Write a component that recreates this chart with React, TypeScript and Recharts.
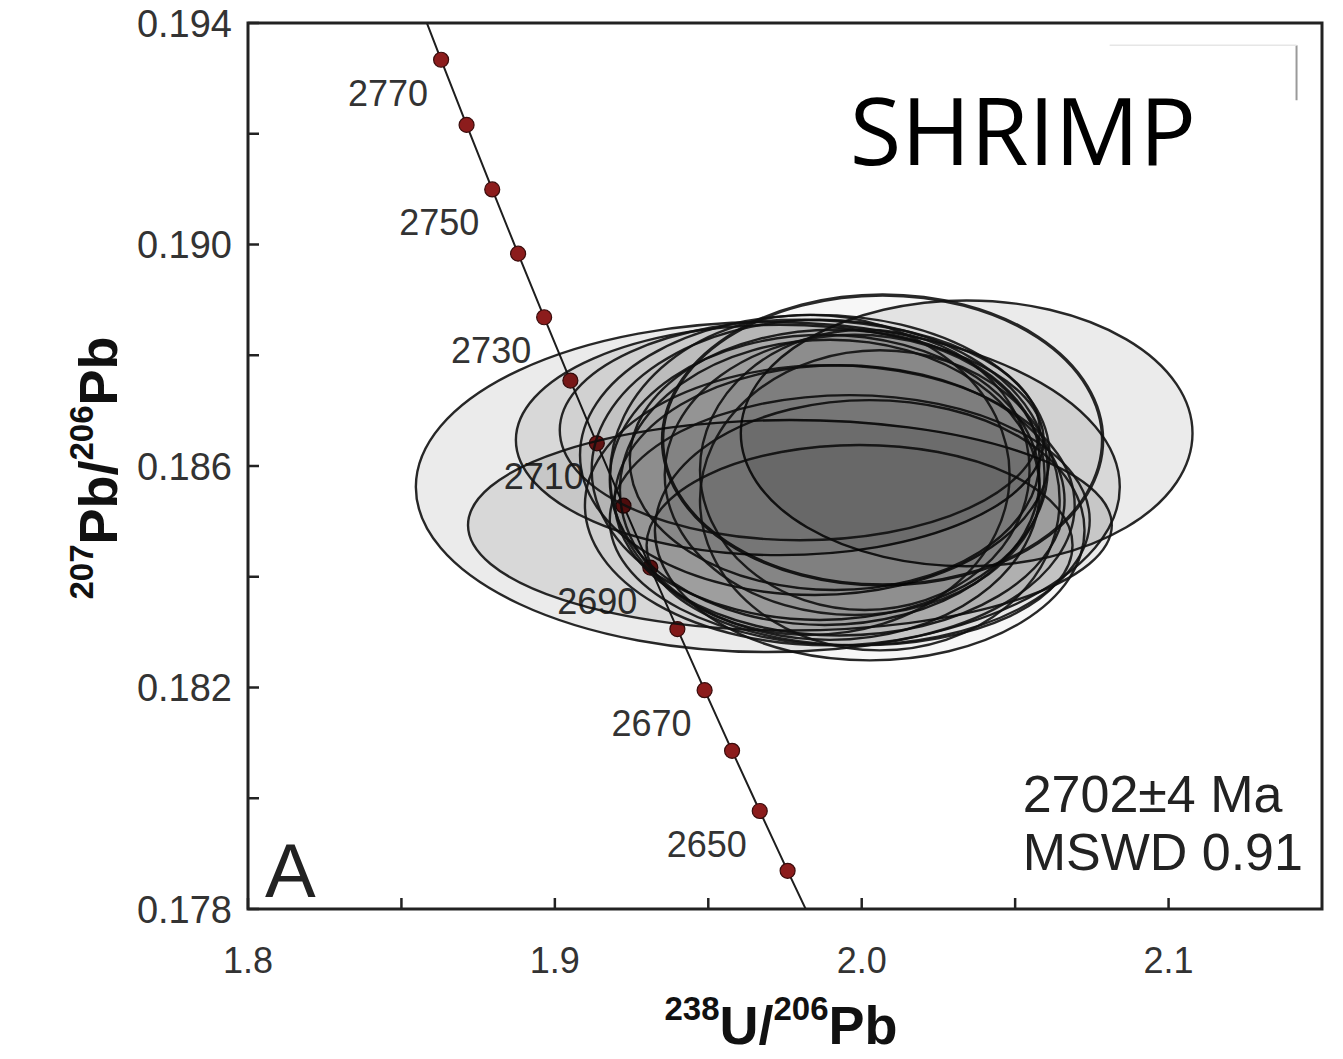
import React from "react";
import {
  ScatterChart,
  Scatter,
  XAxis,
  YAxis,
  ReferenceArea,
  ReferenceDot,
  ReferenceLine,
} from "recharts";

const FONT = "'Liberation Sans', Arial, Helvetica, sans-serif";

// Tera-Wasserburg concordia, one point every 10 Ma
const concordiaAges = [2630, 2640, 2650, 2660, 2670, 2680, 2690, 2700, 2710, 2720, 2730, 2740, 2750, 2760, 2770, 2780];
const concordiaX = [1.98501, 1.97585, 1.96677, 1.95775, 1.9488, 1.93993, 1.93111, 1.92236, 1.91368, 1.90506, 1.89651, 1.88802, 1.87959, 1.87123, 1.86293, 1.85468];
const concordiaY = [0.177618, 0.178689, 0.17977, 0.180856, 0.181952, 0.183055, 0.184166, 0.185283, 0.18641, 0.187543, 0.188686, 0.189835, 0.190994, 0.19216, 0.193336, 0.194517];
const dottedAges = [2640, 2650, 2660, 2670, 2680, 2690, 2700, 2710, 2720, 2730, 2740, 2750, 2760, 2770];
const labelledAges = [2650, 2670, 2690, 2710, 2730, 2750, 2770];

// SHRIMP spot error ellipses: centre and half-widths
const spotX = [1.9694, 1.9766, 1.9733, 2.0342, 2.0068, 1.9847, 1.9863, 1.9879, 1.9896, 1.9912, 1.9928, 2.0026, 1.9961, 1.9993, 1.9896, 2.001, 1.9798, 1.9977, 1.9831, 2.0059];
const spotY = [0.18562, 0.18493, 0.18647, 0.18659, 0.18647, 0.1862, 0.18593, 0.18575, 0.18557, 0.18611, 0.18538, 0.18484, 0.18502, 0.18457, 0.18529, 0.18593, 0.18665, 0.18584, 0.18584, 0.18538];
const spotHalfX = [0.1147, 0.1049, 0.086, 0.0736, 0.0717, 0.0765, 0.0743, 0.07, 0.0684, 0.0668, 0.0733, 0.07, 0.0782, 0.0694, 0.0798, 0.0537, 0.0782, 0.0619, 0.0651, 0.0586];
const spotHalfY = [0.00298, 0.0019, 0.00208, 0.0024, 0.00262, 0.00253, 0.00271, 0.00262, 0.00271, 0.00235, 0.00244, 0.00235, 0.00226, 0.00181, 0.00253, 0.00253, 0.00199, 0.00253, 0.00289, 0.00271];

const xTicks = [1.8, 1.85, 1.9, 1.95, 2.0, 2.05, 2.1];
const xTickLabels = ["1.8", "", "1.9", "", "2.0", "", "2.1"];
const yTicks = [0.178, 0.18, 0.182, 0.184, 0.186, 0.188, 0.19, 0.192, 0.194];
const yTickLabels = ["0.178", "", "0.182", "", "0.186", "", "0.190", "", "0.194"];

const concordia = concordiaAges.map((age, i) => ({ age, x: concordiaX[i], y: concordiaY[i] }));

// each ellipse: centre, right end, top end -> pixel radii come from the axis scales
const spots = spotX.map((x, i) => [
  { x, y: spotY[i] },
  { x: x + spotHalfX[i], y: spotY[i] },
  { x, y: spotY[i] + spotHalfY[i] },
]);

function findLabel(ticks: number[], labels: string[], v: number) {
  const i = ticks.findIndex((t) => Math.abs(t - v) < 1e-9);
  return i >= 0 ? labels[i] : "";
}

function XTick(props: any) {
  const { x, y, payload } = props;
  const label = findLabel(xTicks, xTickLabels, payload.value);
  return (
    <g>
      <line x1={x} x2={x} y1={y} y2={y - 11} stroke="#222" strokeWidth={2.5} />
      {label && (
        <text x={x} y={y + 64} textAnchor="middle" fontSize={36} fill="#333" fontFamily={FONT}>
          {label}
        </text>
      )}
    </g>
  );
}

function YTick(props: any) {
  const { x, y, payload } = props;
  const label = findLabel(yTicks, yTickLabels, payload.value);
  return (
    <g>
      <line x1={x} x2={x + 11} y1={y} y2={y} stroke="#222" strokeWidth={2.5} />
      {label && (
        <text x={x - 16} y={y} dy="0.36em" textAnchor="end" fontSize={38} fill="#333" fontFamily={FONT}>
          {label}
        </text>
      )}
    </g>
  );
}

function XTitle(props: any) {
  const vb = props.viewBox || { x: 240, y: 909, width: 1074, height: 149 };
  return (
    <text x={vb.x + vb.width / 2 - 4} y={vb.y + 135} textAnchor="middle" fontWeight={700} fill="#111" fontFamily={FONT}>
      <tspan fontSize={33} dy={-24}>238</tspan>
      <tspan fontSize={54} dy={24}>U/</tspan>
      <tspan fontSize={33} dy={-24}>206</tspan>
      <tspan fontSize={54} dy={24}>Pb</tspan>
    </text>
  );
}

function YTitle(props: any) {
  const vb = props.viewBox || { x: 40, y: 23, width: 200, height: 886 };
  const bx = vb.x + 69;
  const cy = vb.y + vb.height / 2 + 2;
  return (
    <text x={bx} y={cy} transform={`rotate(-90 ${bx} ${cy})`} textAnchor="middle" fontWeight={700} fill="#111" fontFamily={FONT}>
      <tspan fontSize={33} dy={-24}>207</tspan>
      <tspan fontSize={54} dy={24}>Pb/</tspan>
      <tspan fontSize={33} dy={-24}>206</tspan>
      <tspan fontSize={54} dy={24}>Pb</tspan>
    </text>
  );
}

function AgeDot(props: any) {
  const { cx, cy } = props;
  const age = (props.payload ?? props).age;
  if (!dottedAges.includes(age)) return <g />;
  return (
    <g>
      <circle cx={cx} cy={cy} r={7.5} fill="#8c1c1c" stroke="#3a0d0d" strokeWidth={1.2} />
      {labelledAges.includes(age) && (
        <text x={cx - 53} y={cy + 46} textAnchor="middle" fontSize={36} fill="#333" fontFamily={FONT}>
          {age}
        </text>
      )}
    </g>
  );
}

const NoSymbol = () => <g />;

const ellipseLine = (opacity: number, width: number) => (p: any) => {
  const pts = p.points || [];
  if (pts.length < 3) return <g />;
  const [c, r, t] = pts;
  return (
    <ellipse
      cx={c.x}
      cy={c.y}
      rx={Math.abs(r.x - c.x)}
      ry={Math.abs(t.y - c.y)}
      fill="#000"
      fillOpacity={opacity}
      stroke="#111"
      strokeOpacity={0.9}
      strokeWidth={width}
    />
  );
};

const note = (text: string, size: number, family: string, color: string) => (p: any) => (
  <text x={p.cx} y={p.cy} fontSize={size} fontFamily={family} fill={color}>
    {text}
  </text>
);

export default function App() {
  return (
    <div style={{ width: 1330, height: 1058, marginTop: -8, marginBottom: -8, background: "#fff" }}>
      <ScatterChart
        width={1330}
        height={1058}
        margin={{ top: 23, right: 16, bottom: 0, left: 40 }}
        style={{ fontFamily: FONT }}
      >
        <XAxis
          type="number"
          dataKey="x"
          domain={[1.8, 2.15]}
          allowDataOverflow
          ticks={xTicks}
          interval={0}
          tick={XTick}
          tickLine={false}
          axisLine={false}
          tickSize={0}
          tickMargin={0}
          height={149}
          label={{ content: XTitle }}
        />
        <YAxis
          type="number"
          dataKey="y"
          domain={[0.178, 0.194]}
          allowDataOverflow
          ticks={yTicks}
          interval={0}
          tick={YTick}
          tickLine={false}
          axisLine={false}
          tickSize={0}
          tickMargin={0}
          width={200}
          label={{ content: YTitle }}
        />
        <Scatter
          data={concordia}
          line={{ stroke: "#1e1e1e", strokeWidth: 2 }}
          lineType="joint"
          shape={AgeDot}
          isAnimationActive={false}
        />
        {spots.map((d, i) => (
          <Scatter
            key={i}
            data={d}
            line={ellipseLine(i < 4 ? 0.08 : 0.03, i === 4 ? 3.5 : 2.4)}
            lineType="joint"
            shape={NoSymbol}
            isAnimationActive={false}
          />
        ))}
        <ReferenceLine
          segment={[{ x: 2.1417, y: 0.193597 }, { x: 2.1417, y: 0.192605 }]}
          stroke="#9a9a9a"
          strokeWidth={2}
        />
        <ReferenceLine
          segment={[{ x: 2.0808, y: 0.193597 }, { x: 2.1417, y: 0.193597 }]}
          stroke="#e6e6e6"
          strokeWidth={1.5}
        />
        <ReferenceArea x1={1.8} x2={2.15} y1={0.178} y2={0.194} fill="none" stroke="#222" strokeWidth={3} />
        <ReferenceDot x={1.9961} y={0.191431} r={0} shape={note("SHRIMP", 94, "'Open Sans', 'Noto Sans', sans-serif", "#000")} />
        <ReferenceDot x={1.80554} y={0.178218} r={0} shape={note("A", 76, FONT, "#222")} />
        <ReferenceDot x={2.05244} y={0.179753} r={0} shape={note("2702±4 Ma", 52, FONT, "#222")} />
        <ReferenceDot x={2.05244} y={0.178706} r={0} shape={note("MSWD 0.91", 52, FONT, "#222")} />
      </ScatterChart>
    </div>
  );
}
